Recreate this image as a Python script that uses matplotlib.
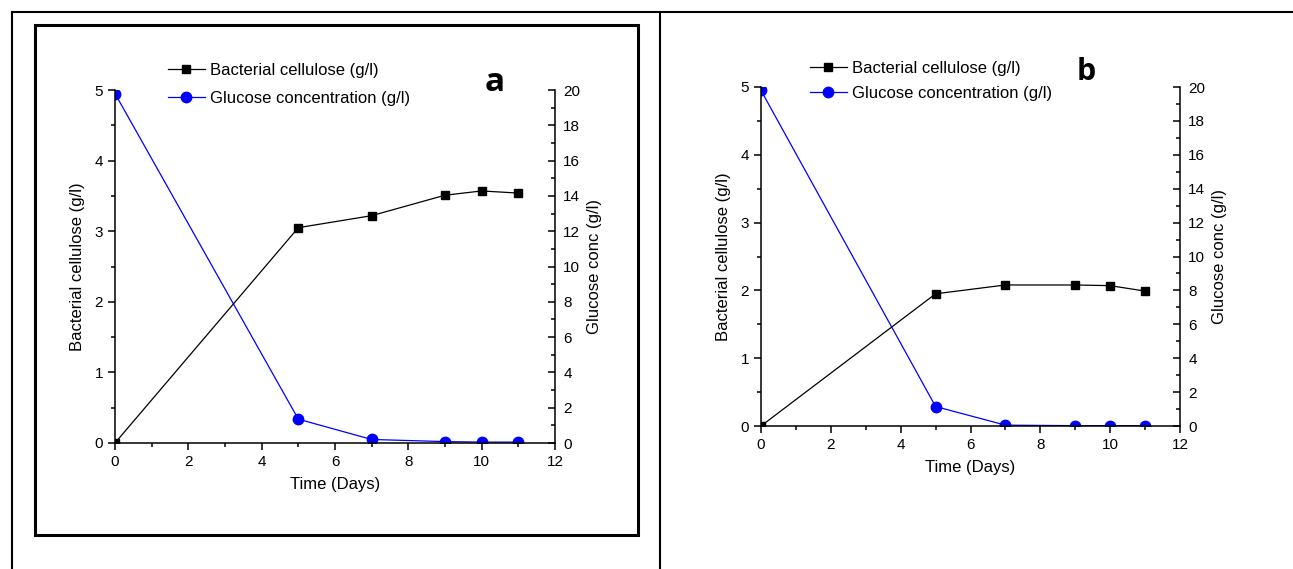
import matplotlib
matplotlib.use("Agg")
import matplotlib.pyplot as plt
from matplotlib.lines import Line2D
from matplotlib.patches import Rectangle
from matplotlib.ticker import MultipleLocator

plt.rcParams['font.family'] = ['Liberation Sans', 'DejaVu Sans']

# data
days = [0, 5, 7, 9, 10, 11]
bc_a = [0.0, 3.05, 3.22, 3.51, 3.57, 3.54]
glc_a = [19.8, 1.35, 0.2, 0.08, 0.05, 0.05]
bc_b = [0.0, 1.95, 2.08, 2.08, 2.07, 1.99]
glc_b = [19.8, 1.15, 0.05, 0.02, 0.02, 0.02]

W, H = 1293, 569
fig = plt.figure(figsize=(W / 100, H / 100), dpi=100)


def fx(px):
    return px / W


def fy(py):
    return 1 - py / H


def panel(x0, x1, y0, y1, bc, glc, tag, tag_xy, tag_size, leg_xy, leg_sp):
    ax = fig.add_axes([fx(x0), fy(y0), fx(x1 - x0), fy(y1) - fy(y0)])
    ax2 = ax.twinx()
    ax.plot(days, bc, color='black', marker='s', markersize=5.5, lw=0.9,
            label='Bacterial cellulose (g/l)', zorder=3)
    ax2.plot(days, glc, color='blue', marker='o', markersize=7.5, lw=0.9,
             label='Glucose concentration (g/l)')
    ax.set_xlim(0, 12)
    ax.set_ylim(0, 5)
    ax2.set_ylim(0, 20)
    ax.xaxis.set_major_locator(MultipleLocator(2))
    ax.xaxis.set_minor_locator(MultipleLocator(1))
    ax.yaxis.set_major_locator(MultipleLocator(1))
    ax.yaxis.set_minor_locator(MultipleLocator(0.5))
    ax2.yaxis.set_major_locator(MultipleLocator(2))
    ax2.yaxis.set_minor_locator(MultipleLocator(1))
    for a in (ax, ax2):
        a.spines['top'].set_visible(False)
        for s in a.spines.values():
            s.set_linewidth(1.1)
    ax.spines['right'].set_visible(False)
    ax2.spines['left'].set_visible(False)
    ax2.spines['bottom'].set_visible(False)
    ax.tick_params(axis='both', which='major', direction='out', length=5,
                   width=1.1, labelsize=11)
    ax.tick_params(axis='both', which='minor', direction='out', length=3,
                   width=1.1)
    ax2.tick_params(axis='y', which='major', direction='in', length=5,
                    width=1.1, labelsize=11, pad=6)
    ax2.tick_params(axis='y', which='minor', direction='in', length=3,
                    width=1.1)
    ax.set_xlabel('Time (Days)', fontsize=12, labelpad=6)
    ax.set_ylabel('Bacterial cellulose (g/l)', fontsize=12, labelpad=7)
    ax2.set_ylabel('Glucose conc (g/l)', fontsize=12, labelpad=5)
    ax.set_zorder(ax2.get_zorder() + 1)
    ax.patch.set_visible(False)

    h1, l1 = ax.get_legend_handles_labels()
    h2, l2 = ax2.get_legend_handles_labels()
    ax.legend(h1 + h2, l1 + l2, loc='upper left',
              bbox_to_anchor=(fx(leg_xy[0]), fy(leg_xy[1])),
              bbox_transform=fig.transFigure, frameon=False, fontsize=12,
              borderpad=0, borderaxespad=0, handlelength=2.2,
              handletextpad=0.3, labelspacing=leg_sp, numpoints=1)
    fig.text(fx(tag_xy[0]), fy(tag_xy[1]), tag, fontsize=tag_size,
             fontweight='bold', family=['Open Sans', 'DejaVu Sans'],
             ha='center', va='center')
    return ax


panel(115, 555, 443, 90, bc_a, glc_a, 'a', (495, 83), 24, (168, 63), 0.75)
panel(761, 1180, 426, 87, bc_b, glc_b, 'b', (1086, 72), 22, (810, 61), 0.62)

# outer frame lines and box round panel a
fig.add_artist(Line2D([fx(12), fx(1293)], [fy(12), fy(12)], color='black', lw=1.5))
fig.add_artist(Line2D([fx(12), fx(12)], [fy(12), 0], color='black', lw=1.5))
fig.add_artist(Line2D([fx(660), fx(660)], [fy(12), 0], color='black', lw=1.5))
fig.add_artist(Rectangle((fx(35), fy(535)), fx(638 - 35), fy(25) - fy(535),
                         fill=False, edgecolor='black', lw=2.2,
                         transform=fig.transFigure))

fig.savefig('out.png', dpi=100)
